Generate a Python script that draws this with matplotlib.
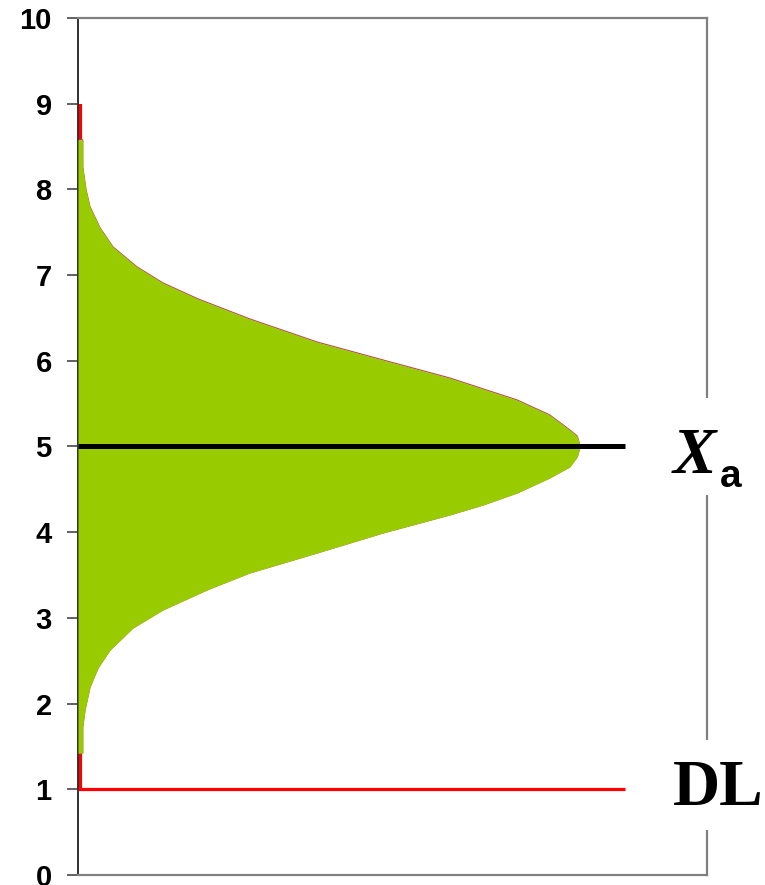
import matplotlib
matplotlib.use("Agg")
import matplotlib.pyplot as plt
import matplotlib.transforms as mtransforms
from matplotlib.patches import Rectangle

# Distribution profile: concentration level (y) and relative frequency (x)
levels = [1.00, 1.42, 1.424, 1.727, 1.925, 2.194, 2.415, 2.625, 2.882, 3.092, 3.326,
          3.524, 3.757, 3.991, 4.201, 4.317, 4.457, 4.632, 4.761, 4.880, 4.959, 5.00,
          5.041, 5.120, 5.193, 5.368, 5.543, 5.799, 6.009, 6.219, 6.488, 6.721, 6.908,
          7.095, 7.328, 7.550, 7.795, 7.993, 8.261, 8.577, 8.58, 9.00]
freq = [0.0, 0.0, 0.0075, 0.0075, 0.0111, 0.0191, 0.0318, 0.0509, 0.0874, 0.135, 0.205,
        0.273, 0.380, 0.485, 0.591, 0.644, 0.698, 0.750, 0.782, 0.794, 0.797, 0.797,
        0.797, 0.794, 0.782, 0.750, 0.698, 0.591, 0.485, 0.380, 0.273, 0.191, 0.135,
        0.0938, 0.0556, 0.035, 0.0191, 0.0127, 0.0075, 0.0075, 0.0, 0.0]

mean_level = 5.0
detection_limit = 1.0
line_end = 0.870
yticks = list(range(0, 11))

fig = plt.figure(figsize=(7.65, 8.85), dpi=100)
ax = fig.add_axes([0.102, 0.0113, 0.822, 0.9684])
ax.set_xlim(0, 1)
ax.set_ylim(0, 10)

# tails of the curve hug the axis as a red edge
tail_tr = mtransforms.offset_copy(ax.transData, fig=fig, x=2.2, y=0, units="dots")
ax.plot([0, 0], [levels[0], levels[2]], color="#FF0000", lw=3.0,
        solid_capstyle="butt", transform=tail_tr, zorder=2)
ax.plot([0, 0], [levels[-3], levels[-1]], color="#FF0000", lw=3.0,
        solid_capstyle="butt", transform=tail_tr, zorder=2)

ax.plot(freq, levels, color="#C04060", lw=0.9, zorder=2)
ax.fill_betweenx(levels, 0, freq, color="#99CC00", lw=0, zorder=3)

ax.plot([0, line_end], [mean_level, mean_level], color="black", lw=3.6,
        solid_capstyle="butt", zorder=4)
ax.plot([0, line_end], [detection_limit, detection_limit], color="#FF0000",
        lw=2.3, solid_capstyle="butt", zorder=4)

# spines
for side in ("top", "right", "bottom"):
    ax.spines[side].set_color("#808080")
    ax.spines[side].set_linewidth(1.6)
ax.spines["left"].set_color("#303030")
ax.spines["left"].set_linewidth(1.4)

ax.set_xticks([])
ax.set_yticks(yticks)
ax.set_yticklabels([str(t) for t in yticks], fontsize=21, fontweight="bold",
                   family="Liberation Sans")
ax.tick_params(axis="y", length=8, width=1.3, color="#555555", pad=11)

# white gaps in the right frame behind the labels
ax.add_patch(Rectangle((0.985, 4.43), 0.03, 1.14, facecolor="white",
                       edgecolor="none", transform=ax.transData, clip_on=False,
                       zorder=5))
ax.add_patch(Rectangle((0.985, 0.53), 0.03, 1.05, facecolor="white",
                       edgecolor="none", transform=ax.transData, clip_on=False,
                       zorder=5))

ax.text(0.946, 4.88, "X", fontsize=47, fontweight="bold", fontstyle="italic",
        family="Liberation Serif", ha="left", va="center", zorder=6, clip_on=False)
ax.text(1.020, 4.64, "a", fontsize=28, fontweight="bold",
        family="Liberation Sans", ha="left", va="center", zorder=6, clip_on=False)
ax.text(0.946, 1.00, "DL", fontsize=47, fontweight="bold",
        family="Liberation Serif", ha="left", va="center", zorder=6, clip_on=False)

fig.savefig("out.png", dpi=100, facecolor="white")
